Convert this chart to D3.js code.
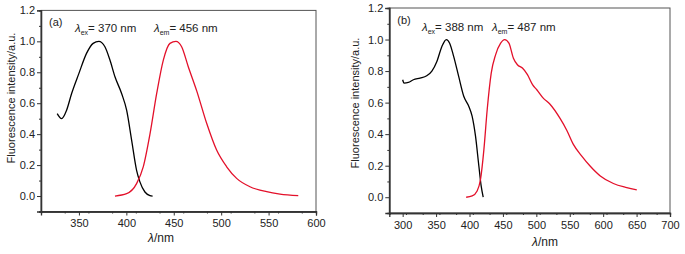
<!DOCTYPE html>
<html><head><meta charset="utf-8">
<script src="https://cdn.jsdelivr.net/npm/d3@7"></script>
<style>
html,body{margin:0;padding:0;background:#fff;}
svg{display:block;font-family:"Liberation Sans",Arial,sans-serif;}
</style></head><body>
<svg id="c" width="685" height="254"></svg>
<script>
// Panel (a)
const aExX = [327.1,331.7,337,342.3,350,358,365,371,377.4,382.7,388,395,400.3,405.6,410.8,414.4,419.6,424.9,427.7];
const aExY = [0.533,0.50,0.555,0.663,0.793,0.922,0.987,1.0,0.965,0.879,0.771,0.663,0.555,0.36,0.166,0.09,0.026,0.003,0.0];
const aEmX = [388,400.3,410.8,417.9,424.9,432,439,446,452.3,458.3,465.3,474.2,484.7,495.2,505.8,516.3,530.4,548,562,581.3];
const aEmY = [0.0,0.015,0.08,0.19,0.40,0.663,0.879,0.987,1.0,0.965,0.836,0.68,0.47,0.297,0.189,0.114,0.06,0.028,0.013,0.002];
// Panel (b)
const bExX = [300,302,308.5,316,326,336,343.7,351.2,358.7,365.3,370.3,376.3,383.8,391.4,398.9,403.9,409,414,417.5,420.5];
const bExY = [0.745,0.724,0.728,0.745,0.756,0.77,0.80,0.861,0.956,1.0,0.977,0.893,0.766,0.64,0.577,0.514,0.387,0.198,0.07,0.0];
const bEmX = [395,404,411.4,416.5,421.5,426.5,432.5,439,446.6,452.6,459,465.7,471.7,479.2,486.7,494.3,501,510,520.5,535.5,545.5,555.4,568,580.4,595.7,615.3,635.3,650.3];
const bEmY = [0.0,0.008,0.04,0.114,0.30,0.556,0.787,0.903,0.977,1.0,0.977,0.882,0.84,0.819,0.777,0.714,0.68,0.63,0.59,0.50,0.425,0.335,0.261,0.198,0.135,0.087,0.061,0.046];
const aXTicks = [350,400,450,500,550,600];
const bXTicks = [300,350,400,450,500,550,600,650,700];
const yTicks = [0.0,0.2,0.4,0.6,0.8,1.0,1.2];
const xTitle = "/nm";
const yTitle = "Fluorescence intensity/a.u.";

const svg = d3.select("#c");
const axisColor = "#333";
const red = "#e3102a";

function panel(o){
  const g = svg.append("g");
  const x = d3.scaleLinear().domain(o.xd).range([o.l, o.r]);
  const y = d3.scaleLinear().domain([-0.1,1.2]).range([o.b, o.t]);
  g.append("rect").attr("x",o.l).attr("y",o.t).attr("width",o.r-o.l).attr("height",o.b-o.t)
    .attr("fill","none").attr("stroke","#555").attr("stroke-width",1);
  const xMinor = d3.range(o.xd[0], o.xd[1]+0.1, 25).filter(v=>v%50!==0 && v>o.xd[0]);
  const xa = d3.axisBottom(x).tickValues(o.xt).tickSize(4).tickFormat(d3.format("d"));
  const xm = d3.axisBottom(x).tickValues(xMinor).tickSize(2).tickFormat("");
  const ya = d3.axisLeft(y).tickValues(yTicks).tickSize(4).tickFormat(d3.format(".1f"));
  const ym = d3.axisLeft(y).tickValues(d3.range(-0.1,1.15,0.2).map(v=>+v.toFixed(1))).tickSize(2).tickFormat("");
  [xa,xm].forEach(a=>{
    const ax = g.append("g").attr("transform",`translate(0,${o.b})`).call(a);
    ax.select(".domain").attr("stroke",axisColor).attr("stroke-width",1.3);
    ax.selectAll(".tick line").attr("stroke",axisColor);
    ax.selectAll("text").attr("font-size",11).attr("fill","#222").attr("dy","0.71em").attr("y",o.xly);
  });
  [ya,ym].forEach(a=>{
    const ax = g.append("g").attr("transform",`translate(${o.l},0)`).call(a);
    ax.select(".domain").attr("stroke",axisColor).attr("stroke-width",1.3);
    ax.selectAll(".tick line").attr("stroke",axisColor);
    ax.selectAll("text").attr("font-size",11).attr("fill","#222").attr("x",-6);
  });
  const line = d3.line().x(d=>x(d[0])).y(d=>y(d[1])).curve(d3.curveMonotoneX);
  g.append("path").datum(o.exX.map((v,i)=>[v,o.exY[i]])).attr("d",line)
    .attr("fill","none").attr("stroke","#000").attr("stroke-width",1.3);
  g.append("path").datum(o.emX.map((v,i)=>[v,o.emY[i]])).attr("d",line)
    .attr("fill","none").attr("stroke",red).attr("stroke-width",1.3);
  g.append("text").attr("x",o.l+8).attr("y",o.t+16).attr("font-size",11).attr("fill","#222").text(o.tag);
  function lam(xp, yp, sub, val){
    const t = g.append("text").attr("x",xp).attr("y",yp).attr("font-size",11.5).attr("fill","#222");
    t.append("tspan").attr("font-style","italic").text("λ");
    t.append("tspan").attr("font-size",7).attr("dy",3).text(sub);
    t.append("tspan").attr("dy",-3).text("= "+val+" nm");
  }
  lam(o.exLx, o.ly, "ex", o.exVal);
  lam(o.emLx, o.ly, "em", o.emVal);
  const xt = g.append("text").attr("x",o.xtx).attr("y",o.xty).attr("text-anchor","middle")
    .attr("font-size",12).attr("fill","#222");
  xt.append("tspan").attr("font-style","italic").text("λ");
  xt.append("tspan").text(xTitle);
  g.append("text").attr("transform",`translate(${o.ytx},${o.yty}) rotate(-90)`)
    .attr("text-anchor","middle").attr("font-size",11).attr("fill","#222").text(yTitle);
}

panel({l:41,r:316,t:10.4,b:211.5,xd:[310,600],xt:aXTicks,exX:aExX,exY:aExY,emX:aEmX,emY:aEmY,
  tag:"(a)",exLx:75,emLx:154,ly:32,exVal:"370",emVal:"456",xtx:161,xty:242,ytx:15,yty:98,xly:8});
panel({l:389.3,r:670,t:8,b:213,xd:[280,700],xt:bXTicks,exX:bExX,exY:bExY,emX:bEmX,emY:bEmY,
  tag:"(b)",exLx:422,emLx:492,ly:31,exVal:"388",emVal:"487",xtx:545,xty:246,ytx:359,yty:103,xly:8});
</script>
</body></html>
